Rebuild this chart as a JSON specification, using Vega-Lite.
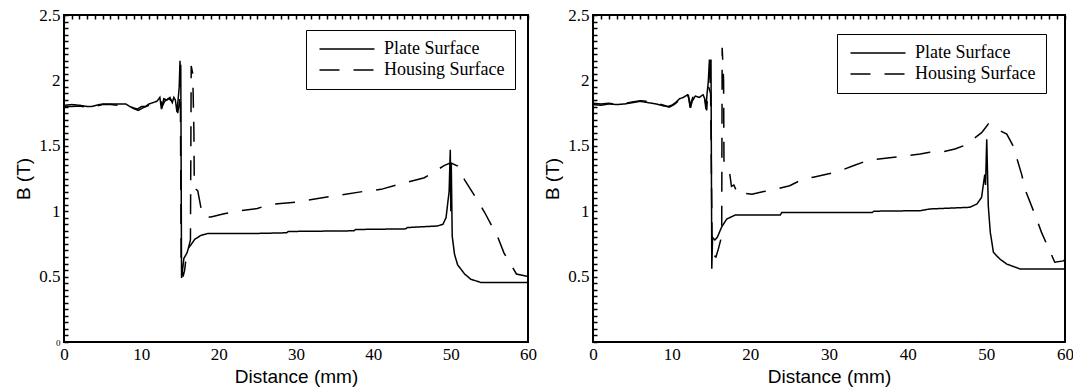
{
  "$schema": "https://vega.github.io/schema/vega-lite/v6.json",
  "background": "white",
  "padding": {"left": 13, "top": 5, "right": 0, "bottom": 0},
  "spacing": 4,
  "datasets": {
    "pts": [
      {"p":"L","s":"Plate Surface","x":0,"y":1.81},{"p":"L","s":"Plate Surface","x":1,"y":1.815},{"p":"L","s":"Plate Surface","x":2,"y":1.81},{"p":"L","s":"Plate Surface","x":3,"y":1.8},{"p":"L","s":"Plate Surface","x":3.6,"y":1.8},{"p":"L","s":"Plate Surface","x":4.2,"y":1.81},{"p":"L","s":"Plate Surface","x":5,"y":1.82},{"p":"L","s":"Plate Surface","x":6,"y":1.82},{"p":"L","s":"Plate Surface","x":7,"y":1.82},{"p":"L","s":"Plate Surface","x":8,"y":1.82},{"p":"L","s":"Plate Surface","x":8.5,"y":1.8},{"p":"L","s":"Plate Surface","x":9,"y":1.79},{"p":"L","s":"Plate Surface","x":9.5,"y":1.78},{"p":"L","s":"Plate Surface","x":10,"y":1.8},{"p":"L","s":"Plate Surface","x":10.5,"y":1.8},{"p":"L","s":"Plate Surface","x":11,"y":1.82},{"p":"L","s":"Plate Surface","x":11.5,"y":1.83},{"p":"L","s":"Plate Surface","x":12,"y":1.84},{"p":"L","s":"Plate Surface","x":12.4,"y":1.87},{"p":"L","s":"Plate Surface","x":12.6,"y":1.78},{"p":"L","s":"Plate Surface","x":12.9,"y":1.86},{"p":"L","s":"Plate Surface","x":13.3,"y":1.85},{"p":"L","s":"Plate Surface","x":13.7,"y":1.87},{"p":"L","s":"Plate Surface","x":14,"y":1.83},{"p":"L","s":"Plate Surface","x":14.2,"y":1.87},{"p":"L","s":"Plate Surface","x":14.4,"y":1.85},{"p":"L","s":"Plate Surface","x":14.6,"y":1.76},{"p":"L","s":"Plate Surface","x":14.8,"y":1.88},{"p":"L","s":"Plate Surface","x":14.9,"y":1.95},{"p":"L","s":"Plate Surface","x":15.0,"y":2.15},{"p":"L","s":"Plate Surface","x":15.05,"y":1.95},{"p":"L","s":"Plate Surface","x":15.1,"y":2.12},{"p":"L","s":"Plate Surface","x":15.2,"y":0.49},{"p":"L","s":"Plate Surface","x":15.35,"y":0.56},{"p":"L","s":"Plate Surface","x":15.5,"y":0.64},{"p":"L","s":"Plate Surface","x":15.7,"y":0.66},{"p":"L","s":"Plate Surface","x":15.9,"y":0.68},{"p":"L","s":"Plate Surface","x":16.1,"y":0.72},{"p":"L","s":"Plate Surface","x":16.5,"y":0.75},{"p":"L","s":"Plate Surface","x":16.9,"y":0.785},{"p":"L","s":"Plate Surface","x":17.7,"y":0.815},{"p":"L","s":"Plate Surface","x":18.6,"y":0.83},{"p":"L","s":"Plate Surface","x":25,"y":0.83},{"p":"L","s":"Plate Surface","x":28.8,"y":0.835},{"p":"L","s":"Plate Surface","x":29,"y":0.845},{"p":"L","s":"Plate Surface","x":37.5,"y":0.85},{"p":"L","s":"Plate Surface","x":37.7,"y":0.86},{"p":"L","s":"Plate Surface","x":44.2,"y":0.865},{"p":"L","s":"Plate Surface","x":44.4,"y":0.875},{"p":"L","s":"Plate Surface","x":48.3,"y":0.887},{"p":"L","s":"Plate Surface","x":49,"y":0.9},{"p":"L","s":"Plate Surface","x":49.4,"y":0.95},{"p":"L","s":"Plate Surface","x":49.6,"y":1.05},{"p":"L","s":"Plate Surface","x":49.8,"y":1.15},{"p":"L","s":"Plate Surface","x":49.95,"y":1.47},{"p":"L","s":"Plate Surface","x":50.02,"y":1.0},{"p":"L","s":"Plate Surface","x":50.08,"y":1.36},{"p":"L","s":"Plate Surface","x":50.2,"y":0.81},{"p":"L","s":"Plate Surface","x":50.5,"y":0.67},{"p":"L","s":"Plate Surface","x":50.9,"y":0.59},{"p":"L","s":"Plate Surface","x":51.8,"y":0.52},{"p":"L","s":"Plate Surface","x":52.6,"y":0.48},{"p":"L","s":"Plate Surface","x":53.9,"y":0.455},{"p":"L","s":"Plate Surface","x":60,"y":0.455},

      {"p":"L","s":"Housing Surface","x":0,"y":1.8},{"p":"L","s":"Housing Surface","x":1,"y":1.8},{"p":"L","s":"Housing Surface","x":2,"y":1.805},{"p":"L","s":"Housing Surface","x":3,"y":1.795},{"p":"L","s":"Housing Surface","x":4,"y":1.8},{"p":"L","s":"Housing Surface","x":5,"y":1.815},{"p":"L","s":"Housing Surface","x":6,"y":1.815},{"p":"L","s":"Housing Surface","x":7,"y":1.81},{"p":"L","s":"Housing Surface","x":8,"y":1.815},{"p":"L","s":"Housing Surface","x":9,"y":1.785},{"p":"L","s":"Housing Surface","x":9.6,"y":1.77},{"p":"L","s":"Housing Surface","x":10.2,"y":1.79},{"p":"L","s":"Housing Surface","x":11,"y":1.81},{"p":"L","s":"Housing Surface","x":11.8,"y":1.83},{"p":"L","s":"Housing Surface","x":12.5,"y":1.85},{"p":"L","s":"Housing Surface","x":12.7,"y":1.8},{"p":"L","s":"Housing Surface","x":13,"y":1.84},{"p":"L","s":"Housing Surface","x":13.5,"y":1.86},{"p":"L","s":"Housing Surface","x":14,"y":1.84},{"p":"L","s":"Housing Surface","x":14.5,"y":1.86},{"p":"L","s":"Housing Surface","x":14.7,"y":1.75},{"p":"L","s":"Housing Surface","x":14.85,"y":1.8},{"p":"L","s":"Housing Surface","x":15.05,"y":1.9},{"p":"L","s":"Housing Surface","x":15.15,"y":0.6},{"p":"L","s":"Housing Surface","x":15.4,"y":0.5},{"p":"L","s":"Housing Surface","x":15.6,"y":0.55},{"p":"L","s":"Housing Surface","x":15.8,"y":0.65},{"p":"L","s":"Housing Surface","x":16.1,"y":0.72},{"p":"L","s":"Housing Surface","x":16.35,"y":0.78},{"p":"L","s":"Housing Surface","x":16.45,"y":2.11},{"p":"L","s":"Housing Surface","x":16.65,"y":2.05},{"p":"L","s":"Housing Surface","x":16.8,"y":1.6},{"p":"L","s":"Housing Surface","x":16.85,"y":1.18},{"p":"L","s":"Housing Surface","x":17.3,"y":1.155},{"p":"L","s":"Housing Surface","x":17.7,"y":1.03},{"p":"L","s":"Housing Surface","x":18.06,"y":0.96},{"p":"L","s":"Housing Surface","x":19,"y":0.955},{"p":"L","s":"Housing Surface","x":20.7,"y":0.98},{"p":"L","s":"Housing Surface","x":22.2,"y":1.0},{"p":"L","s":"Housing Surface","x":25,"y":1.02},{"p":"L","s":"Housing Surface","x":26.5,"y":1.05},{"p":"L","s":"Housing Surface","x":30,"y":1.07},{"p":"L","s":"Housing Surface","x":34.2,"y":1.11},{"p":"L","s":"Housing Surface","x":38.6,"y":1.15},{"p":"L","s":"Housing Surface","x":41,"y":1.167},{"p":"L","s":"Housing Surface","x":43.6,"y":1.21},{"p":"L","s":"Housing Surface","x":46.6,"y":1.256},{"p":"L","s":"Housing Surface","x":48.1,"y":1.31},{"p":"L","s":"Housing Surface","x":49.2,"y":1.35},{"p":"L","s":"Housing Surface","x":50,"y":1.37},{"p":"L","s":"Housing Surface","x":50.9,"y":1.345},{"p":"L","s":"Housing Surface","x":51.1,"y":1.31},{"p":"L","s":"Housing Surface","x":51.8,"y":1.24},{"p":"L","s":"Housing Surface","x":53.5,"y":1.08},{"p":"L","s":"Housing Surface","x":54.4,"y":0.99},{"p":"L","s":"Housing Surface","x":56.1,"y":0.8},{"p":"L","s":"Housing Surface","x":56.9,"y":0.68},{"p":"L","s":"Housing Surface","x":58.5,"y":0.52},{"p":"L","s":"Housing Surface","x":59.7,"y":0.505},{"p":"L","s":"Housing Surface","x":60,"y":0.5},

      {"p":"R","s":"Plate Surface","x":0,"y":1.815},{"p":"R","s":"Plate Surface","x":1,"y":1.81},{"p":"R","s":"Plate Surface","x":2,"y":1.82},{"p":"R","s":"Plate Surface","x":3,"y":1.815},{"p":"R","s":"Plate Surface","x":4,"y":1.82},{"p":"R","s":"Plate Surface","x":5,"y":1.83},{"p":"R","s":"Plate Surface","x":6,"y":1.84},{"p":"R","s":"Plate Surface","x":6.5,"y":1.835},{"p":"R","s":"Plate Surface","x":7,"y":1.83},{"p":"R","s":"Plate Surface","x":8,"y":1.82},{"p":"R","s":"Plate Surface","x":9,"y":1.805},{"p":"R","s":"Plate Surface","x":9.5,"y":1.8},{"p":"R","s":"Plate Surface","x":10,"y":1.81},{"p":"R","s":"Plate Surface","x":10.5,"y":1.83},{"p":"R","s":"Plate Surface","x":11,"y":1.86},{"p":"R","s":"Plate Surface","x":11.5,"y":1.87},{"p":"R","s":"Plate Surface","x":12,"y":1.89},{"p":"R","s":"Plate Surface","x":12.2,"y":1.86},{"p":"R","s":"Plate Surface","x":12.4,"y":1.79},{"p":"R","s":"Plate Surface","x":12.6,"y":1.84},{"p":"R","s":"Plate Surface","x":13,"y":1.88},{"p":"R","s":"Plate Surface","x":13.5,"y":1.87},{"p":"R","s":"Plate Surface","x":14,"y":1.89},{"p":"R","s":"Plate Surface","x":14.2,"y":1.86},{"p":"R","s":"Plate Surface","x":14.35,"y":1.78},{"p":"R","s":"Plate Surface","x":14.5,"y":1.9},{"p":"R","s":"Plate Surface","x":14.65,"y":1.985},{"p":"R","s":"Plate Surface","x":14.8,"y":2.16},{"p":"R","s":"Plate Surface","x":14.9,"y":1.98},{"p":"R","s":"Plate Surface","x":15.0,"y":2.16},{"p":"R","s":"Plate Surface","x":15.1,"y":0.56},{"p":"R","s":"Plate Surface","x":15.2,"y":0.8},{"p":"R","s":"Plate Surface","x":15.5,"y":0.78},{"p":"R","s":"Plate Surface","x":15.8,"y":0.8},{"p":"R","s":"Plate Surface","x":16.36,"y":0.88},{"p":"R","s":"Plate Surface","x":17,"y":0.94},{"p":"R","s":"Plate Surface","x":18.05,"y":0.97},{"p":"R","s":"Plate Surface","x":23.8,"y":0.97},{"p":"R","s":"Plate Surface","x":24,"y":0.99},{"p":"R","s":"Plate Surface","x":35.5,"y":0.99},{"p":"R","s":"Plate Surface","x":35.7,"y":1.0},{"p":"R","s":"Plate Surface","x":41.6,"y":1.004},{"p":"R","s":"Plate Surface","x":42.8,"y":1.017},{"p":"R","s":"Plate Surface","x":47.9,"y":1.03},{"p":"R","s":"Plate Surface","x":48.8,"y":1.055},{"p":"R","s":"Plate Surface","x":49.4,"y":1.106},{"p":"R","s":"Plate Surface","x":49.6,"y":1.195},{"p":"R","s":"Plate Surface","x":49.8,"y":1.28},{"p":"R","s":"Plate Surface","x":49.9,"y":1.2},{"p":"R","s":"Plate Surface","x":50.05,"y":1.55},{"p":"R","s":"Plate Surface","x":50.25,"y":1.04},{"p":"R","s":"Plate Surface","x":50.5,"y":0.84},{"p":"R","s":"Plate Surface","x":50.9,"y":0.686},{"p":"R","s":"Plate Surface","x":51.7,"y":0.635},{"p":"R","s":"Plate Surface","x":52.6,"y":0.596},{"p":"R","s":"Plate Surface","x":54.3,"y":0.558},{"p":"R","s":"Plate Surface","x":60,"y":0.558},

      {"p":"R","s":"Housing Surface","x":0,"y":1.825},{"p":"R","s":"Housing Surface","x":1,"y":1.82},{"p":"R","s":"Housing Surface","x":2,"y":1.825},{"p":"R","s":"Housing Surface","x":3,"y":1.82},{"p":"R","s":"Housing Surface","x":4,"y":1.825},{"p":"R","s":"Housing Surface","x":5,"y":1.835},{"p":"R","s":"Housing Surface","x":6,"y":1.845},{"p":"R","s":"Housing Surface","x":7,"y":1.84},{"p":"R","s":"Housing Surface","x":8,"y":1.83},{"p":"R","s":"Housing Surface","x":9,"y":1.81},{"p":"R","s":"Housing Surface","x":9.7,"y":1.795},{"p":"R","s":"Housing Surface","x":10.3,"y":1.815},{"p":"R","s":"Housing Surface","x":11,"y":1.85},{"p":"R","s":"Housing Surface","x":11.6,"y":1.88},{"p":"R","s":"Housing Surface","x":12.1,"y":1.9},{"p":"R","s":"Housing Surface","x":12.3,"y":1.81},{"p":"R","s":"Housing Surface","x":12.7,"y":1.87},{"p":"R","s":"Housing Surface","x":13.3,"y":1.88},{"p":"R","s":"Housing Surface","x":13.8,"y":1.87},{"p":"R","s":"Housing Surface","x":14.2,"y":1.87},{"p":"R","s":"Housing Surface","x":14.45,"y":1.77},{"p":"R","s":"Housing Surface","x":14.6,"y":1.9},{"p":"R","s":"Housing Surface","x":14.7,"y":1.95},{"p":"R","s":"Housing Surface","x":14.95,"y":1.9},{"p":"R","s":"Housing Surface","x":15.15,"y":0.7},{"p":"R","s":"Housing Surface","x":15.4,"y":0.66},{"p":"R","s":"Housing Surface","x":15.63,"y":0.65},{"p":"R","s":"Housing Surface","x":15.93,"y":0.71},{"p":"R","s":"Housing Surface","x":16.36,"y":0.81},{"p":"R","s":"Housing Surface","x":16.42,"y":2.25},{"p":"R","s":"Housing Surface","x":16.6,"y":2.0},{"p":"R","s":"Housing Surface","x":16.65,"y":1.36},{"p":"R","s":"Housing Surface","x":17.1,"y":1.33},{"p":"R","s":"Housing Surface","x":17.4,"y":1.28},{"p":"R","s":"Housing Surface","x":17.6,"y":1.19},{"p":"R","s":"Housing Surface","x":17.9,"y":1.2},{"p":"R","s":"Housing Surface","x":18.2,"y":1.16},{"p":"R","s":"Housing Surface","x":18.5,"y":1.17},{"p":"R","s":"Housing Surface","x":18.7,"y":1.14},{"p":"R","s":"Housing Surface","x":20.2,"y":1.13},{"p":"R","s":"Housing Surface","x":21.7,"y":1.15},{"p":"R","s":"Housing Surface","x":23.4,"y":1.17},{"p":"R","s":"Housing Surface","x":25,"y":1.195},{"p":"R","s":"Housing Surface","x":26.5,"y":1.24},{"p":"R","s":"Housing Surface","x":28,"y":1.26},{"p":"R","s":"Housing Surface","x":31,"y":1.3},{"p":"R","s":"Housing Surface","x":33,"y":1.345},{"p":"R","s":"Housing Surface","x":35,"y":1.39},{"p":"R","s":"Housing Surface","x":38,"y":1.41},{"p":"R","s":"Housing Surface","x":41.6,"y":1.437},{"p":"R","s":"Housing Surface","x":42.8,"y":1.45},{"p":"R","s":"Housing Surface","x":44.5,"y":1.455},{"p":"R","s":"Housing Surface","x":46,"y":1.475},{"p":"R","s":"Housing Surface","x":47.1,"y":1.5},{"p":"R","s":"Housing Surface","x":48.3,"y":1.55},{"p":"R","s":"Housing Surface","x":49.4,"y":1.6},{"p":"R","s":"Housing Surface","x":50.25,"y":1.667},{"p":"R","s":"Housing Surface","x":50.9,"y":1.64},{"p":"R","s":"Housing Surface","x":52.6,"y":1.59},{"p":"R","s":"Housing Surface","x":53.4,"y":1.5},{"p":"R","s":"Housing Surface","x":54.5,"y":1.28},{"p":"R","s":"Housing Surface","x":54.9,"y":1.17},{"p":"R","s":"Housing Surface","x":56.4,"y":0.94},{"p":"R","s":"Housing Surface","x":57,"y":0.84},{"p":"R","s":"Housing Surface","x":58.7,"y":0.61},{"p":"R","s":"Housing Surface","x":59.8,"y":0.62},{"p":"R","s":"Housing Surface","x":60,"y":0.63}
    ]
  },
  "data": {"name": "pts"},
  "hconcat": [
    {
      "width": 464,
      "height": 327,
      "transform": [{"filter": "datum.p === 'L'"}],
      "mark": {"type": "line", "strokeWidth": 1.5, "strokeDash": {"expr": "datum.s === 'Housing Surface' ? [20, 14] : [1, 0]"}},
      "encoding": {
        "x": {"field": "x", "type": "quantitative", "scale": {"domain": [0, 60], "nice": false},
          "axis": {"title": "Distance (mm)",
            "values": [0,1,2,3,4,5,6,7,8,9,10,11,12,13,14,15,16,17,18,19,20,21,22,23,24,25,26,27,28,29,30,31,32,33,34,35,36,37,38,39,40,41,42,43,44,45,46,47,48,49,50,51,52,53,54,55,56,57,58,59,60],
            "labelExpr": "datum.value % 10 === 0 ? format(datum.value, 'd') : ''"}},
        "y": {"field": "y", "type": "quantitative", "scale": {"domain": [0, 2.5], "nice": false},
          "axis": {"title": "B (T)",
            "values": [0,0.05,0.1,0.15,0.2,0.25,0.3,0.35,0.4,0.45,0.5,0.55,0.6,0.65,0.7,0.75,0.8,0.85,0.9,0.95,1,1.05,1.1,1.15,1.2,1.25,1.3,1.35,1.4,1.45,1.5,1.55,1.6,1.65,1.7,1.75,1.8,1.85,1.9,1.95,2,2.05,2.1,2.15,2.2,2.25,2.3,2.35,2.4,2.45,2.5],
            "labelFontSize": {"condition": {"test": "datum.value < 0.01", "value": 9}, "value": 17},
            "labelExpr": "abs(datum.value*2 - round(datum.value*2)) < 0.001 ? format(datum.value, '.2~f') : ''"}},
        "color": {"field": "s", "type": "nominal",
          "scale": {"domain": ["Plate Surface", "Housing Surface"], "range": ["black", "black"]},
          "legend": {"title": null, "orient": "none", "legendX": 242, "legendY": 15,
            "labelFont": "Liberation Serif", "labelFontSize": 18, "labelColor": "black",
            "symbolType": "M-1,0H9", "symbolSize": 121, "symbolStrokeWidth": 1.5, "symbolStrokeColor": "black",
            "strokeColor": "black", "fillColor": "white", "padding": 10,
            "labelOffset": 50, "rowPadding": 3, "cornerRadius": 0,
            "encode": {"symbols": {"update": {"strokeDash": {"signal": "datum.value === 'Housing Surface' ? [20, 14] : [1, 0]"}}}}}}
      }
    },
    {
      "width": 472,
      "height": 327,
      "transform": [{"filter": "datum.p === 'R'"}],
      "mark": {"type": "line", "strokeWidth": 1.5, "strokeDash": {"expr": "datum.s === 'Housing Surface' ? [20, 14] : [1, 0]"}},
      "encoding": {
        "x": {"field": "x", "type": "quantitative", "scale": {"domain": [0, 60], "nice": false},
          "axis": {"title": "Distance (mm)",
            "values": [0,1,2,3,4,5,6,7,8,9,10,11,12,13,14,15,16,17,18,19,20,21,22,23,24,25,26,27,28,29,30,31,32,33,34,35,36,37,38,39,40,41,42,43,44,45,46,47,48,49,50,51,52,53,54,55,56,57,58,59,60],
            "labelExpr": "datum.value % 10 === 0 ? format(datum.value, 'd') : ''"}},
        "y": {"field": "y", "type": "quantitative", "scale": {"domain": [0, 2.5], "nice": false},
          "axis": {"title": "B (T)",
            "values": [0,0.05,0.1,0.15,0.2,0.25,0.3,0.35,0.4,0.45,0.5,0.55,0.6,0.65,0.7,0.75,0.8,0.85,0.9,0.95,1,1.05,1.1,1.15,1.2,1.25,1.3,1.35,1.4,1.45,1.5,1.55,1.6,1.65,1.7,1.75,1.8,1.85,1.9,1.95,2,2.05,2.1,2.15,2.2,2.25,2.3,2.35,2.4,2.45,2.5],
            "labelExpr": "abs(datum.value*2 - round(datum.value*2)) < 0.001 && datum.value > 0.01 ? format(datum.value, '.2~f') : ''"}},
        "color": {"field": "s", "type": "nominal",
          "scale": {"domain": ["Plate Surface", "Housing Surface"], "range": ["black", "black"]},
          "legend": {"title": null, "orient": "none", "legendX": 244, "legendY": 19,
            "labelFont": "Liberation Serif", "labelFontSize": 18, "labelColor": "black",
            "symbolType": "M-1,0H9", "symbolSize": 121, "symbolStrokeWidth": 1.5, "symbolStrokeColor": "black",
            "strokeColor": "black", "fillColor": "white", "padding": 10,
            "labelOffset": 50, "rowPadding": 3, "cornerRadius": 0,
            "encode": {"symbols": {"update": {"strokeDash": {"signal": "datum.value === 'Housing Surface' ? [20, 14] : [1, 0]"}}}}}}
      }
    }
  ],
  "resolve": {"scale": {"color": "independent"}},
  "config": {
    "view": {"stroke": "black", "strokeWidth": 2},
    "axis": {
      "grid": true, "gridColor": "black", "gridWidth": 1.5, "gridOpacity": 1, "gridDash": [4, 2000],
      "domain": false, "ticks": false, "offset": 0, "labelPadding": 4,
      "labelFont": "Liberation Serif", "labelFontSize": 17, "labelColor": "black",
      "labelFlush": false, "labelOverlap": false,
      "titleFont": "Liberation Sans", "titleFontSize": 19, "titleFontWeight": "normal", "titleColor": "black",
      "titlePadding": 5
    }
  }
}
